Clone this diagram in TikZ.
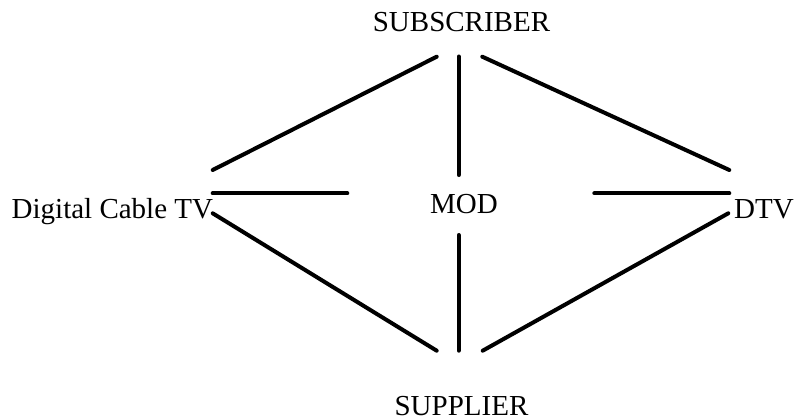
\documentclass[tikz,border=0pt]{standalone}
\usepackage{fontspec}
\setmainfont{Liberation Serif}
\begin{document}
\begin{tikzpicture}[x=1pt,y=-1pt,
  lbl/.style={inner sep=0pt,font=\fontsize{29}{35}\selectfont},
  conn/.style={line width=4pt,line cap=round}]
\useasboundingbox (0,0) rectangle (796,420);
% labels
\node[lbl,anchor=base] (sub) at (461.5,32) {SUBSCRIBER};
\node[lbl,anchor=base west] (dct) at (11.5,218) {Digital Cable TV};
\node[lbl,anchor=base] (mod) at (464,213) {MOD};
\node[lbl,anchor=base east] (dtv) at (794,218) {DTV};
\node[lbl,anchor=base] (sup) at (461.5,415) {SUPPLIER};
% connector end points
\coordinate (s1) at (436.7,56.7);
\coordinate (s2) at (458.7,56.5);
\coordinate (s3) at (482.3,56.7);
\coordinate (l1) at (212.7,170);
\coordinate (l2a) at (212.7,193.3);
\coordinate (l2b) at (347.3,193.3);
\coordinate (l3) at (212.7,213.3);
\coordinate (r1) at (729.3,170);
\coordinate (r2a) at (594.3,193.3);
\coordinate (r2b) at (729.3,193.3);
\coordinate (r3) at (728.3,213.3);
\coordinate (m1) at (458.7,175);
\coordinate (m2) at (458.7,235);
\coordinate (p1) at (436.7,350.7);
\coordinate (p2) at (458.7,350.7);
\coordinate (p3) at (482.7,350.7);
% connectors
\draw[conn] (l1) -- (s1);
\draw[conn] (s2) -- (m1);
\draw[conn] (s3) -- (r1);
\draw[conn] (l2a) -- (l2b);
\draw[conn] (r2a) -- (r2b);
\draw[conn] (l3) -- (p1);
\draw[conn] (m2) -- (p2);
\draw[conn] (r3) -- (p3);
\end{tikzpicture}
\end{document}
